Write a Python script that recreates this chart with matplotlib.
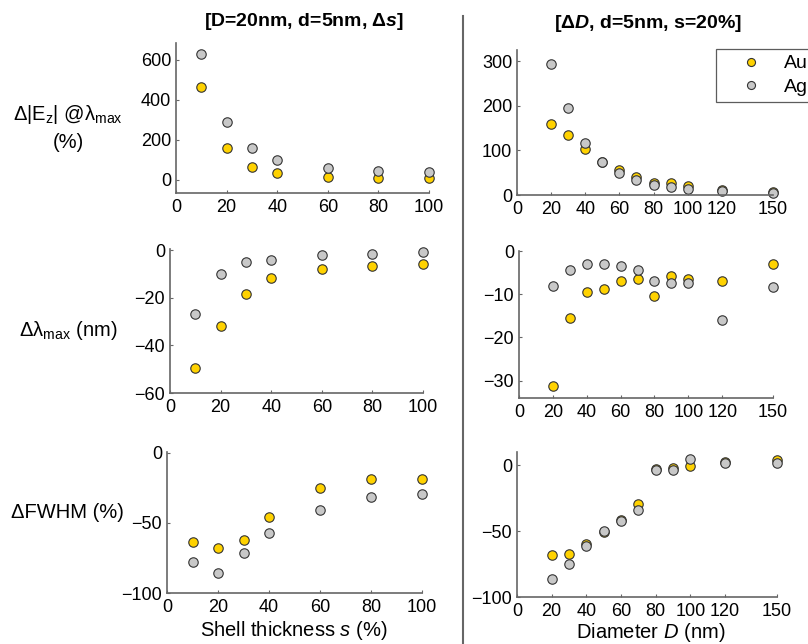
import matplotlib
matplotlib.use("Agg")
import matplotlib.pyplot as plt

plt.rcParams['font.family'] = ['Liberation Sans', 'DejaVu Sans']
plt.rcParams['mathtext.fontset'] = 'custom'
plt.rcParams['mathtext.rm'] = 'Liberation Sans'
plt.rcParams['mathtext.it'] = 'Liberation Sans:italic'
plt.rcParams['mathtext.bf'] = 'Liberation Sans:italic:bold'

# shell thickness series (left column)
s_vals = [10, 20, 30, 40, 60, 80, 100]
ez_au_s = [466, 158, 67, 33, 17, 12, 12]
ez_ag_s = [630, 292, 158, 98, 58, 45, 40]
lam_au_s = [-49.6, -31.7, -18.2, -11.6, -7.7, -6.6, -6.0]
lam_ag_s = [-26.6, -10.1, -5.0, -4.2, -2.1, -1.7, -0.7]
fwhm_au_s = [-64, -68, -62, -46, -25, -19, -18.5]
fwhm_ag_s = [-78, -86, -71.5, -57, -40.5, -31.5, -29.5]

# diameter series (right column)
D_vals = [20, 30, 40, 50, 60, 70, 80, 90, 100, 120, 150]
ez_au_D = [159, 134, 102, 75, 56, 41, 28, 26, 20, 11, 7]
ez_ag_D = [293, 196, 117, 75, 50, 34, 22, 17, 13, 9, 5]
lam_au_D = [-31.3, -15.5, -9.4, -8.9, -7.0, -6.5, -10.4, -5.8, -6.5, -7.0, -3.0]
lam_ag_D = [-8.0, -4.4, -2.9, -2.9, -3.5, -4.4, -7.0, -7.5, -7.5, -15.9, -8.4]
fwhm_au_D = [-68, -67, -59.5, -50.5, -41.5, -29.6, -2.8, -2.5, -0.8, 2.6, 3.8]
fwhm_ag_D = [-86, -75, -61.5, -50.2, -42, -33.7, -4.0, -3.3, 4.6, 2.0, 1.5]

au_color = '#FFD200'
ag_color = '#C8C8C8'
edge = '#333333'

W, H = 808, 644
fig = plt.figure(figsize=(W / 100, H / 100), dpi=100)


def make_ax(x0, x1, top, bottom):
    ax = fig.add_axes([x0 / W, 1 - bottom / H, (x1 - x0) / W, (bottom - top) / H])
    ax.spines['top'].set_visible(False)
    ax.spines['right'].set_visible(False)
    for sp in ('left', 'bottom'):
        ax.spines[sp].set_color('#666666')
        ax.spines[sp].set_linewidth(1.2)
    ax.tick_params(direction='in', length=2.5, width=0.8, color='#666666',
                   labelsize=13)
    ax.tick_params(axis='x', pad=4.5)
    ax.tick_params(axis='y', pad=3.5)
    return ax


def scatter(ax, x, au, ag):
    ax.plot(x, au, 'o', ms=6.8, mfc=au_color, mec=edge, mew=0.8, clip_on=False, label='Au')
    ax.plot(x, ag, 'o', ms=6.8, mfc=ag_color, mec=edge, mew=0.8, clip_on=False, label='Ag')


# left column
ax1 = make_ax(176, 429, 43, 193)
scatter(ax1, s_vals, ez_au_s, ez_ag_s)
ax1.set_xlim(0, 100)
ax1.set_ylim(-65, 685)
ax1.set_yticks([0, 200, 400, 600])
ax1.set_xticks([0, 20, 40, 60, 80, 100])

ax3 = make_ax(170, 423, 249, 393)
scatter(ax3, s_vals, lam_au_s, lam_ag_s)
ax3.set_xlim(0, 100)
ax3.set_ylim(-60, 0.5)
ax3.set_yticks([-60, -40, -20, 0])
ax3.set_xticks([0, 20, 40, 60, 80, 100])

ax5 = make_ax(167, 422, 452, 593)
scatter(ax5, s_vals, fwhm_au_s, fwhm_ag_s)
ax5.set_xlim(0, 100)
ax5.set_ylim(-100, 0.5)
ax5.set_yticks([-100, -50, 0])
ax5.set_xticks([0, 20, 40, 60, 80, 100])

# right column
D_ticks = [0, 20, 40, 60, 80, 100, 120, 150]
ax2 = make_ax(517, 773, 50, 195)
scatter(ax2, D_vals, ez_au_D, ez_ag_D)
ax2.set_xlim(0, 150)
ax2.set_ylim(0, 325)
ax2.set_yticks([0, 100, 200, 300])
ax2.set_xticks(D_ticks)

ax4 = make_ax(519, 773, 251, 398)
scatter(ax4, D_vals, lam_au_D, lam_ag_D)
ax4.set_xlim(0, 150)
ax4.set_ylim(-34, 0)
ax4.set_yticks([-30, -20, -10, 0])
ax4.set_xticks(D_ticks)

ax6 = make_ax(517, 777, 452, 597)
scatter(ax6, D_vals, fwhm_au_D, fwhm_ag_D)
ax6.set_xlim(0, 150)
ax6.set_ylim(-100, 10)
ax6.set_yticks([-100, -50, 0])
ax6.set_xticks(D_ticks)

leg = ax2.legend(loc='upper left', bbox_to_anchor=(716 / W, 1 - 49 / H),
                 bbox_transform=fig.transFigure, fontsize=14, frameon=True,
                 fancybox=False, edgecolor='#333333', handlelength=3.0,
                 handletextpad=0.2, borderpad=0.3, labelspacing=0.3,
                 borderaxespad=0, numpoints=1, markerscale=0.85)
leg.get_frame().set_linewidth(0.9)

# separator line
fig.add_artist(plt.Line2D([463 / W, 463 / W], [0, 1 - 16 / H], color='#666666', lw=1.5))

# titles
fig.text(304 / W, 1 - 21 / H, r'[D=20nm, d=5nm, Δ$\mathbf{s}$]', fontsize=14,
         fontweight='bold', ha='center', va='center')
fig.text(648 / W, 1 - 23 / H, r'[Δ$\mathbf{D}$, d=5nm, s=20%]', fontsize=14,
         fontweight='bold', ha='center', va='center')

# row labels
fig.text(68 / W, 1 - 115 / H, r'Δ|E$_\mathrm{z}$| @λ$_\mathrm{max}$', fontsize=14.5,
         ha='center', va='center')
fig.text(68 / W, 1 - 142 / H, '(%)', fontsize=14.5, ha='center', va='center')
fig.text(68 / W, 1 - 330 / H, r'Δλ$_\mathrm{max}$ (nm)', fontsize=14.5,
         ha='center', va='center')
fig.text(67 / W, 1 - 513 / H, 'ΔFWHM (%)', fontsize=14.5, ha='center', va='center')

# x labels
fig.text(294 / W, 1 - 631 / H, r'Shell thickness $\mathit{s}$ (%)', fontsize=14.5,
         ha='center', va='center')
fig.text(651 / W, 1 - 632 / H, r'Diameter $\mathit{D}$ (nm)', fontsize=14.5,
         ha='center', va='center')

fig.savefig('out.png', dpi=100)
